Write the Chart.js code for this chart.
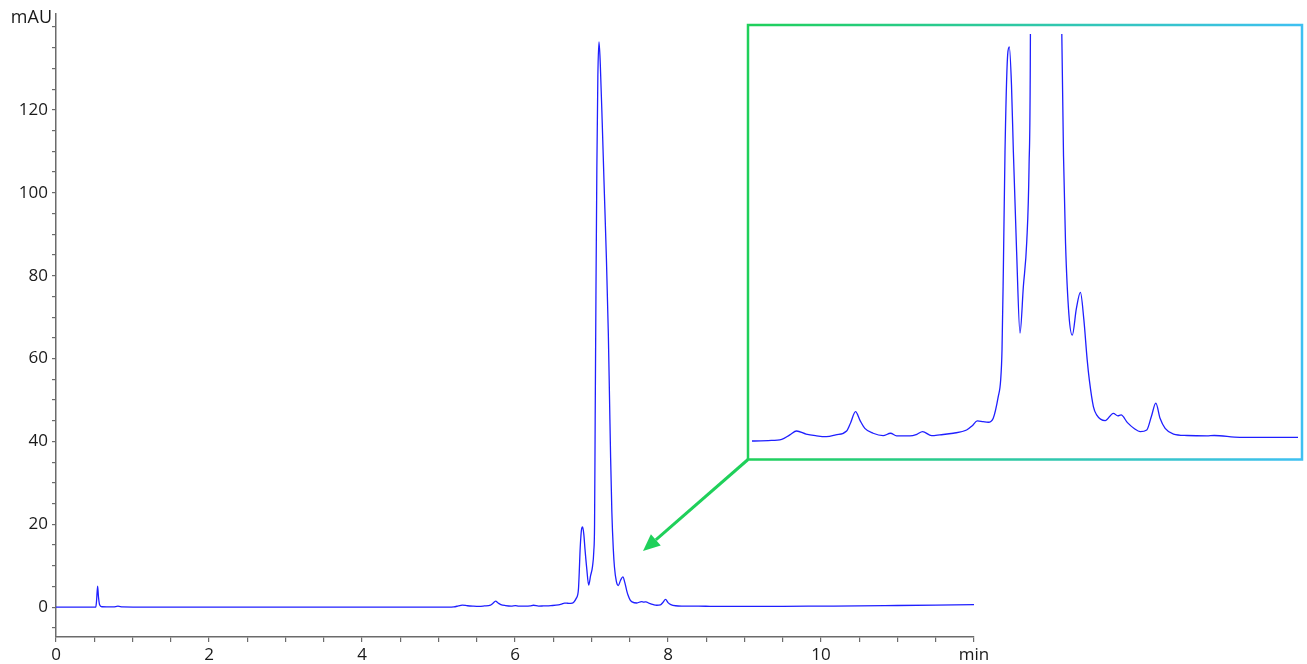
<!DOCTYPE html>
<html>
<head>
<meta charset="utf-8">
<script src="https://cdn.jsdelivr.net/npm/chart.js@4/dist/chart.umd.min.js"></script>
<style>
  html, body { margin: 0; padding: 0; background: #fff; }
  #wrap { position: relative; width: 1307px; height: 664px; }
  #main { position: absolute; left: 0; top: 0; }
  #inset { position: absolute; left: 752px; top: 34px; }
</style>
</head>
<body>
<div id="wrap">
  <canvas id="main" width="1307" height="664"></canvas>
  <canvas id="inset" width="546" height="420"></canvas>
</div>
<script>
// ---- data (retention time in min, signal in mAU) ----
const timeMin = [
  0.00, 0.40, 0.52, 0.53, 0.544, 0.555, 0.57, 0.60, 0.75, 0.81, 0.87, 1.20, 2.00, 3.00, 3.50, 4.00, 4.50,
  5.00, 5.10, 5.20, 5.26, 5.31, 5.38, 5.45, 5.53, 5.60, 5.68, 5.71, 5.746, 5.78, 5.815, 5.876, 5.95,
  6.005, 6.05, 6.148, 6.20, 6.242, 6.309, 6.37, 6.469, 6.568, 6.61, 6.647, 6.69, 6.728, 6.765, 6.802,
  6.82, 6.83, 6.84, 6.852, 6.872, 6.884, 6.90, 6.914, 6.938, 6.963, 6.988, 7.013, 7.030, 7.040,
  7.048, 7.058, 7.070, 7.083, 7.098, 7.115, 7.140, 7.163, 7.195, 7.220, 7.236, 7.250, 7.266, 7.285,
  7.300, 7.325, 7.350, 7.380, 7.410, 7.435, 7.460, 7.476, 7.506, 7.530, 7.593, 7.654, 7.687, 7.711,
  7.758, 7.810, 7.852, 7.901, 7.935, 7.968, 8.000, 8.037, 8.099, 8.200, 8.346, 8.400, 8.590, 9.000,
  9.50, 10.00, 10.50, 11.00, 11.50, 12.00
];
const signalMAU = [
  0.00, 0.00, 0.00, 1.5, 5.1, 2.5, 0.6, 0.1, 0.05, 0.24, 0.05, 0.00, 0.00, 0.00, 0.02, 0.00, 0.00,
  0.00, 0.02, 0.08, 0.30, 0.49, 0.34, 0.26, 0.21, 0.30, 0.49, 0.90, 1.44, 1.00, 0.62, 0.38, 0.26,
  0.38, 0.25, 0.25, 0.33, 0.46, 0.26, 0.30, 0.38, 0.54, 0.75, 0.99, 0.95, 0.92, 1.12, 2.18,
  3.0, 4.5, 8.5, 14.2, 19.0, 19.36, 17.5, 14.2, 9.3, 5.3, 7.6, 9.8, 13.5, 20.0,
  45.0, 75.0, 106.0, 128.0, 136.4, 131.0, 117.0, 103.0, 84.0, 66.0, 50.0, 36.0, 23.0, 14.0,
  9.7, 6.2, 5.2, 6.5, 7.3, 6.0, 4.0, 3.0, 1.69, 1.28, 1.00, 1.36, 1.23, 1.28,
  0.90, 0.60, 0.46, 0.54, 1.20, 1.86, 1.10, 0.62, 0.34, 0.27, 0.25, 0.27, 0.18, 0.18,
  0.20, 0.25, 0.30, 0.40, 0.50, 0.60
];
const xTickLabels = ['0', '2', '4', '6', '8', '10'];
const yTickLabels = ['0', '20', '40', '60', '80', '100', '120'];
const xUnit = 'min';
const yUnit = 'mAU';
const insetRange = [4.98, 9.02];
const insetYRange = [-0.64, 20.0];

const points = timeMin.map((t, i) => ({ x: t, y: signalMAU[i] }));
const FONT = '"Open Sans", "DejaVu Sans", sans-serif';
const TEXT = '#1a1a1a';
const AXIS = '#6b6b6b';
const LINE = '#1f1fff';
const GREEN = '#1fd05a';
const CYAN = '#3ec0f2';

// box, arrow and unit label drawn on the main canvas
const overlay = {
  id: 'overlay',
  afterDraw(chart) {
    const c = chart.ctx;
    c.save();
    // mAU label
    c.fillStyle = TEXT;
    c.font = '18px ' + FONT;
    c.textAlign = 'right';
    c.textBaseline = 'middle';
    c.fillText(yUnit, 52, 18);
    // inset frame
    const L = 748, T = 25, R = 1302, B = 459.5;
    const g = c.createLinearGradient(L, 0, R, 0);
    g.addColorStop(0, GREEN);
    g.addColorStop(1, CYAN);
    c.strokeStyle = g;
    c.lineWidth = 2.5;
    c.strokeRect(L, T, R - L, B - T);
    // arrow
    const x0 = L, y0 = B, x1 = 643, y1 = 551;
    const ang = Math.atan2(y1 - y0, x1 - x0);
    const head = 17, hw = 7.5;
    const bx = x1 - head * Math.cos(ang), by = y1 - head * Math.sin(ang);
    c.strokeStyle = GREEN;
    c.lineWidth = 3;
    c.beginPath();
    c.moveTo(x0, y0);
    c.lineTo(bx, by);
    c.stroke();
    c.fillStyle = GREEN;
    c.beginPath();
    c.moveTo(x1, y1);
    c.lineTo(bx + hw * Math.sin(ang), by - hw * Math.cos(ang));
    c.lineTo(bx - hw * Math.sin(ang), by + hw * Math.cos(ang));
    c.closePath();
    c.fill();
    c.restore();
  }
};

new Chart(document.getElementById('main'), {
  type: 'line',
  data: { datasets: [{ data: points, borderColor: LINE, borderWidth: 1.3, pointRadius: 0,
    cubicInterpolationMode: 'monotone', fill: false }] },
  options: {
    responsive: false, animation: false, devicePixelRatio: 1,
    layout: { padding: { left: 0, top: 12.5, right: 333, bottom: 0 } },
    plugins: { legend: { display: false }, tooltip: { enabled: false } },
    scales: {
      x: {
        type: 'linear', min: 0, max: 12,
        afterFit(s) { s.height = 27; },
        border: { color: AXIS, width: 1.5 },
        grid: { drawOnChartArea: false, drawTicks: true, tickLength: 5, color: AXIS, lineWidth: 1.2 },
        ticks: {
          stepSize: 0.5, includeBounds: false, autoSkip: false, maxRotation: 0, padding: 3,
          color: TEXT, font: { family: FONT, size: 17 },
          callback(v) {
            if (Math.abs(v - 12) < 1e-6) return xUnit;
            const i = Math.round(v / 2);
            return (Math.abs(v - i * 2) < 1e-6 && xTickLabels[i] !== undefined) ? xTickLabels[i] : '';
          }
        }
      },
      y: {
        type: 'linear', min: -7.2, max: 143.1,
        afterFit(s) { s.width = 56; },
        border: { color: AXIS, width: 1.5 },
        grid: { drawOnChartArea: false, drawTicks: true, tickLength: 4, color: AXIS, lineWidth: 1.2 },
        ticks: {
          stepSize: 5, includeBounds: false, autoSkip: false, padding: 4,
          color: TEXT, font: { family: FONT, size: 17 },
          callback(v) {
            const i = Math.round(v / 20);
            return (Math.abs(v - i * 20) < 1e-6 && yTickLabels[i] !== undefined) ? yTickLabels[i] : '';
          }
        }
      }
    }
  },
  plugins: [overlay]
});

new Chart(document.getElementById('inset'), {
  type: 'line',
  data: { datasets: [{ data: points, borderColor: LINE, borderWidth: 1.3, pointRadius: 0,
    cubicInterpolationMode: 'monotone', fill: false }] },
  options: {
    responsive: false, animation: false, devicePixelRatio: 1,
    layout: { padding: 0 },
    plugins: { legend: { display: false }, tooltip: { enabled: false } },
    scales: {
      x: { type: 'linear', display: false, min: insetRange[0], max: insetRange[1] },
      y: { type: 'linear', display: false, min: insetYRange[0], max: insetYRange[1] }
    }
  }
});
</script>
</body>
</html>
